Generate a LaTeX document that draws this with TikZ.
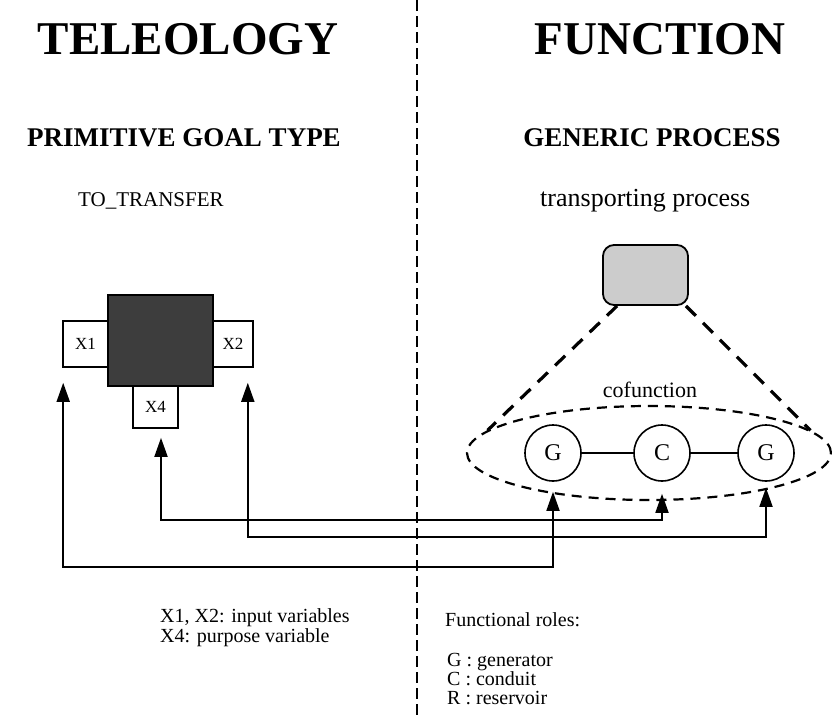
\documentclass[tikz,border=0pt]{standalone}
\usepackage{fontspec}
\setmainfont{Liberation Serif}
\usetikzlibrary{arrows.meta,shapes.geometric}

\definecolor{coregray}{gray}{0.24}
\definecolor{procgray}{gray}{0.80}

\begin{document}
\begin{tikzpicture}[x=1pt,y=-1pt,
  bigtitle/.style={font=\bfseries\fontsize{47}{52}\selectfont,anchor=base,inner sep=0pt},
  subtitle/.style={font=\bfseries\fontsize{27}{30}\selectfont,anchor=base,inner sep=0pt},
  plain/.style={font=\fontsize{20}{22}\selectfont,anchor=base west,inner sep=0pt},
  varbox/.style={draw,line width=1.6pt,inner sep=0pt,fill=white,font=\fontsize{17}{17}\selectfont},
  circ/.style={draw,circle,line width=1.6pt,minimum size=56pt,inner sep=0pt,fill=white,font=\fontsize{24}{24}\selectfont},
  link/.style={line width=1.8pt,{Triangle[length=19pt,width=13pt]}-{Triangle[length=19pt,width=13pt]}},
  bond/.style={line width=1.6pt},
  divider/.style={line width=1.5pt,dash pattern=on 11pt off 5pt},
  fan/.style={line width=3.2pt,dash pattern=on 14pt off 10pt},
  cofring/.style={draw,ellipse,line width=2.2pt,dash pattern=on 10pt off 7pt,inner sep=0pt}
]
\useasboundingbox (0,0) rectangle (832,718);

% column divider
\coordinate (divtop) at (417,0);
\coordinate (divbot) at (417,718);
\draw[divider] (divtop) -- (divbot);

% headings
\node[bigtitle] (teleo) at (188,54) {TELEOLOGY};
\node[bigtitle] (func) at (660,54) {FUNCTION};
\node[subtitle] (pgt) at (184,146) {PRIMITIVE GOAL TYPE};
\node[subtitle] (gp) at (652,146) {GENERIC PROCESS};
\node[plain,font=\fontsize{21}{24}\selectfont] (transfer) at (78,206) {TO\_TRANSFER};
\node[plain,font=\fontsize{26}{30}\selectfont] (tproc) at (540,206) {transporting process};

% goal type: variables around the core
\node[varbox,minimum width=45pt,minimum height=46pt] (X1) at (85.5,344) {X1};
\node[varbox,minimum width=40pt,minimum height=46pt] (X2) at (233,344) {X2};
\node[varbox,minimum width=45pt,minimum height=42pt] (X4) at (155.5,407) {X4};
\node[draw,line width=1.6pt,fill=coregray,minimum width=105pt,minimum height=91pt,inner sep=0pt] (core) at (160.5,340.5) {};

% generic process and its cofunction
\node[draw,line width=1.8pt,rounded corners=11pt,fill=procgray,minimum width=85pt,minimum height=60pt,inner sep=0pt] (proc) at (645.5,275) {};
\node[cofring,minimum width=364pt,minimum height=94pt] (cof) at (649,453) {};
\node[font=\fontsize{22}{24}\selectfont,inner sep=0pt] (coflab) at (650,390) {cofunction};
\draw[fan] ([xshift=15pt]proc.south west) -- (cof.172);
\draw[fan] ([xshift=-3pt]proc.south east) -- (cof.8);

\node[circ] (G1) at (553,453) {G};
\node[circ] (C) at (662,453) {C};
\node[circ] (G2) at (766,453) {G};
\draw[bond] (G1) -- (C);
\draw[bond] (C) -- (G2);

% role bindings
\coordinate (rowA) at (0,520);
\coordinate (rowB) at (0,537);
\coordinate (rowC) at (0,567);
\draw[link] ([shift={(5.5,9)}]X4.south) -- ([shift={(5.5,0)}]X4.south |- rowA) -| ([shift={(0,12)}]C.south);
\draw[link] ([shift={(-6,15)}]X2.south east) -- ([shift={(-6,0)}]X2.south east |- rowB) -| ([shift={(0,6)}]G2.south);
\draw[link] ([shift={(1,15)}]X1.south west) -- ([shift={(1,0)}]X1.south west |- rowC) -| ([shift={(0,10)}]G1.south);

% legends
\node[plain] (legA) at (160,622) {X1, X2: input variables};
\node[plain] (legB) at (160,642) {X4: purpose variable};
\node[plain] (roles) at (445,626) {Functional roles:};
\node[plain] (roleG) at (447,666) {G : generator};
\node[plain] (roleC) at (447,685) {C : conduit};
\node[plain] (roleR) at (447,704) {R : reservoir};
\end{tikzpicture}
\end{document}
